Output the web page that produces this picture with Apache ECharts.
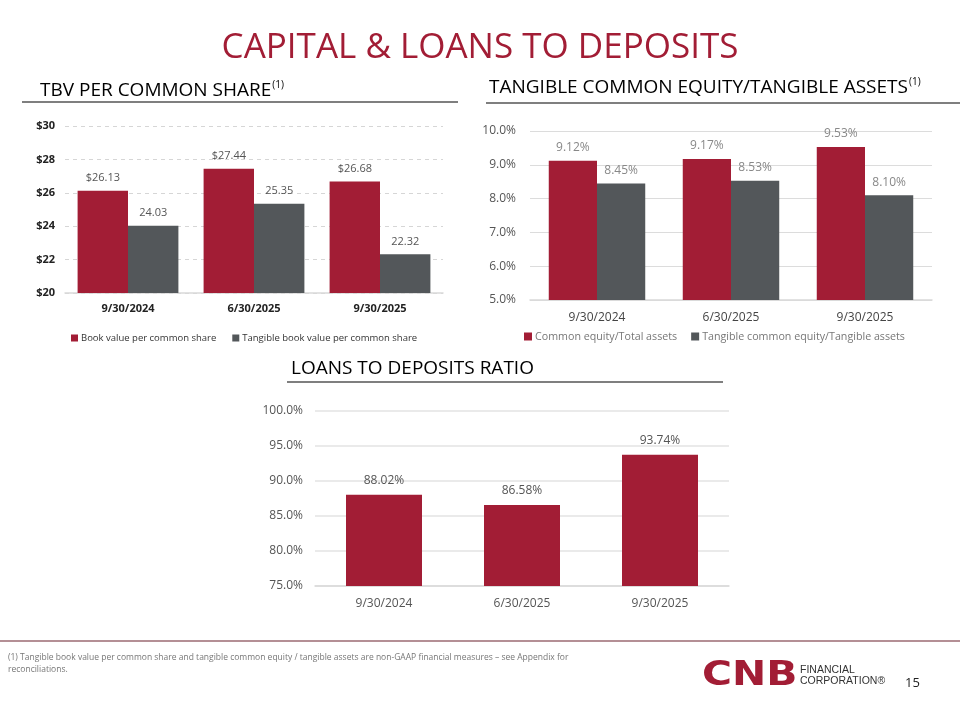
<!DOCTYPE html>
<html>
<head>
<meta charset="utf-8">
<script src="https://cdn.jsdelivr.net/npm/echarts@6/dist/echarts.min.js"></script>
<style>
  html, body { margin: 0; padding: 0; background: #fff; }
  #main { width: 960px; height: 720px; }
</style>
</head>
<body>
<div id="main"></div>
<script>
// categories shared by all three panels
var periods = ['9/30/2024', '6/30/2025', '9/30/2025'];

// TBV per common share
var bookValue = [26.13, 27.44, 26.68];
var tangibleBookValue = [24.03, 25.35, 22.32];

// tangible common equity / tangible assets (%)
var commonEquityRatio = [9.12, 9.17, 9.53];
var tangibleEquityRatio = [8.45, 8.53, 8.10];

// loans to deposits (%)
var loansToDeposits = [88.02, 86.58, 93.74];

var RED = '#a21d35';
var GRAY = '#53575a';
var FONT = "'Open Sans', sans-serif";

var chart = echarts.init(document.getElementById('main'));

// section heading, with optional (1) superscript
function heading(text, x, y, spacing, sup) {
  return {
    type: 'text', left: x, top: y,
    style: {
      text: '{h|' + text + '}' + (sup ? '{s|(1)}' : ''),
      rich: {
        h: { fontFamily: FONT, fontSize: 19, color: RED, letterSpacing: spacing, lineHeight: 22 },
        s: { fontFamily: FONT, fontSize: 10, color: RED, verticalAlign: 'top', padding: [0, 0, 10, 1], lineHeight: 22 }
      }
    }
  };
}

function rule(x1, x2, y, color, w) {
  return {
    type: 'line',
    shape: { x1: x1, y1: y, x2: x2, y2: y },
    style: { stroke: color, lineWidth: w }
  };
}

var graphics = [
  {
    type: 'text', left: 'center', top: 31,
    style: { text: 'CAPITAL & LOANS TO DEPOSITS', font: '35px ' + FONT, fill: RED, letterSpacing: -1.9 }
  },
  heading('TBV PER COMMON SHARE', 40, 80, 1, true),
  heading('TANGIBLE COMMON EQUITY/TANGIBLE ASSETS', 489, 77, 0.3, true),
  heading('LOANS TO DEPOSITS RATIO', 291, 359, 1, false),
  rule(22, 458, 102, '#555', 1.5),
  rule(486, 960, 103, '#555', 1.5),
  rule(287, 723, 382, '#555', 1.5),
  rule(0, 960, 641, '#9b6a72', 1.5),
  {
    type: 'text', left: 8, top: 652,
    style: {
      text: '(1) Tangible book value per common share and tangible common equity / tangible assets are non-GAAP financial measures \u2013 see Appendix for\nreconciliations.',
      font: '8.5px ' + FONT, fill: '#777', lineHeight: 12
    }
  },
  {
    type: 'text', x: 702, y: 659, scaleX: 1.24, scaleY: 1.04,
    style: { text: 'CNB', font: "bold 33px 'DejaVu Sans', sans-serif", fill: RED, letterSpacing: -1 }
  },
  {
    type: 'text', left: 800, top: 665,
    style: { text: 'FINANCIAL\nCORPORATION\u00ae', font: "10.5px 'Liberation Sans', sans-serif", fill: '#333', lineHeight: 10.5 }
  },
  {
    type: 'text', left: 905, top: 677,
    style: { text: '15', font: '13px ' + FONT, fill: '#222' }
  }
];

chart.setOption({
  animation: false,
  textStyle: { fontFamily: FONT },
  graphic: graphics,
  legend: [
    {
      data: ['Book value per common share', 'Tangible book value per common share'],
      left: 66, top: 328, itemWidth: 7, itemHeight: 7, itemGap: 16,
      icon: 'rect',
      textStyle: { fontSize: 9.5, color: '#333', padding: [0, 0, 0, -2] }
    },
    {
      data: ['Common equity/Total assets', 'Tangible common equity/Tangible assets'],
      left: 519, top: 326, itemWidth: 8, itemHeight: 8, itemGap: 14,
      icon: 'rect',
      textStyle: { fontSize: 10.7, color: '#777', padding: [0, 0, 0, -2] }
    }
  ],
  grid: [
    { left: 65, right: 517, top: 126, bottom: 427 },
    { left: 530, right: 28, top: 131, bottom: 420 },
    { left: 315, right: 231, top: 411, bottom: 134 }
  ],
  xAxis: [
    {
      gridIndex: 0, type: 'category', data: periods,
      axisLine: { lineStyle: { color: '#d9d9d9', width: 1.5 } },
      axisTick: { show: false },
      axisLabel: { color: '#222', fontSize: 11, fontWeight: 'bold', margin: 10 }
    },
    {
      gridIndex: 1, type: 'category', data: periods,
      axisLine: { lineStyle: { color: '#d9d9d9', width: 1.5 } },
      axisTick: { show: false },
      axisLabel: { color: '#444', fontSize: 12, margin: 12 }
    },
    {
      gridIndex: 2, type: 'category', data: periods,
      axisLine: { lineStyle: { color: '#d9d9d9', width: 1.5 } },
      axisTick: { show: false },
      axisLabel: { color: '#555', fontSize: 12, margin: 12 }
    }
  ],
  yAxis: [
    {
      gridIndex: 0, type: 'value', min: 20, max: 30, interval: 2,
      axisLine: { show: false }, axisTick: { show: false },
      axisLabel: { color: '#222', fontSize: 11, fontWeight: 'bold', margin: 10, formatter: function (v) { return '$' + v; } },
      splitLine: { lineStyle: { color: '#d6d6d6', type: [4, 4] } }
    },
    {
      gridIndex: 1, type: 'value', min: 5, max: 10, interval: 1,
      axisLine: { show: false }, axisTick: { show: false },
      axisLabel: { color: '#555', fontSize: 12, margin: 14, formatter: function (v) { return v.toFixed(1) + '%'; } },
      splitLine: { lineStyle: { color: '#dcdcdc' } }
    },
    {
      gridIndex: 2, type: 'value', min: 75, max: 100, interval: 5,
      axisLine: { show: false }, axisTick: { show: false },
      axisLabel: { color: '#555', fontSize: 12, margin: 12, formatter: function (v) { return v.toFixed(1) + '%'; } },
      splitLine: { lineStyle: { color: '#e3e3e3', width: 1.5 } }
    }
  ],
  series: [
    {
      name: 'Book value per common share', type: 'bar', xAxisIndex: 0, yAxisIndex: 0,
      data: bookValue, barGap: '0%', barCategoryGap: '20%',
      itemStyle: { color: RED },
      label: { show: true, position: 'top', distance: 7, color: '#555', fontSize: 11, formatter: function (p) { return '$' + p.value.toFixed(2); } }
    },
    {
      name: 'Tangible book value per common share', type: 'bar', xAxisIndex: 0, yAxisIndex: 0,
      data: tangibleBookValue, barGap: '0%', barCategoryGap: '20%',
      itemStyle: { color: GRAY },
      label: { show: true, position: 'top', distance: 7, color: '#555', fontSize: 11, formatter: function (p) { return p.value.toFixed(2); } }
    },
    {
      name: 'Common equity/Total assets', type: 'bar', xAxisIndex: 1, yAxisIndex: 1,
      data: commonEquityRatio, barGap: '0%', barCategoryGap: '28%',
      itemStyle: { color: RED },
      label: { show: true, position: 'top', distance: 7, color: '#888', fontSize: 12, formatter: function (p) { return p.value.toFixed(2) + '%'; } }
    },
    {
      name: 'Tangible common equity/Tangible assets', type: 'bar', xAxisIndex: 1, yAxisIndex: 1,
      data: tangibleEquityRatio, barGap: '0%', barCategoryGap: '28%',
      itemStyle: { color: GRAY },
      label: { show: true, position: 'top', distance: 7, color: '#888', fontSize: 12, formatter: function (p) { return p.value.toFixed(2) + '%'; } }
    },
    {
      name: 'Loans to deposits', type: 'bar', xAxisIndex: 2, yAxisIndex: 2,
      data: loansToDeposits, barWidth: 76,
      itemStyle: { color: RED },
      label: { show: true, position: 'top', distance: 8, color: '#555', fontSize: 12, formatter: function (p) { return p.value.toFixed(2) + '%'; } }
    }
  ]
});
</script>
</body>
</html>
